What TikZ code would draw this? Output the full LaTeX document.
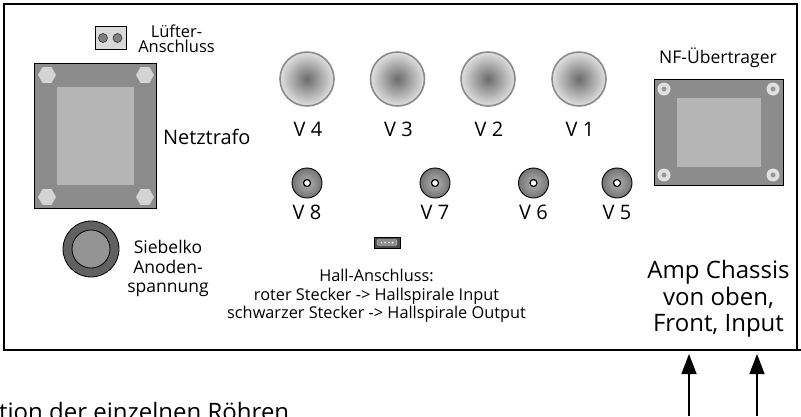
\documentclass[tikz,border=0pt]{standalone}
\usepackage{fontspec}
\setmainfont{Open Sans}
\usetikzlibrary{shapes.geometric,arrows.meta}

\definecolor{trafoout}{HTML}{8C8C8C}
\definecolor{trafoin}{HTML}{B5B5B5}
\definecolor{screw}{HTML}{D4D4D4}
\definecolor{tuberim}{HTML}{8A8A8A}

% fixed line spacing in multi-line labels
\newcommand{\labelfont}[2]{\fontsize{#1}{#2}\selectfont\lineskiplimit=-50pt\relax}

\tikzset{
  lbl/.style={inner sep=0pt, outer sep=0pt, align=center, font=\labelfont{16.5}{15.5}},
  biglbl/.style={inner sep=0pt, outer sep=0pt, align=center, font=\labelfont{20}{22}},
  vlbl/.style={inner sep=0pt, outer sep=0pt, anchor=base, font=\labelfont{20}{22}},
  plate/.style={draw=black, line width=1pt, fill=trafoout, inner sep=0pt, outer sep=0pt},
  core/.style={fill=trafoin, inner sep=0pt, outer sep=0pt},
  hexnut/.style={regular polygon, regular polygon sides=6, fill=screw, inner sep=0pt, minimum size=18pt},
  bigtube/.style={circle, inner sep=0pt, minimum size=54pt, draw=tuberim, line width=1.6pt,
                  inner color=black!58, outer color=black!12},
  smalltube/.style={circle, inner sep=0pt, minimum size=30pt, draw=black, line width=0.9pt,
                    inner color=black!30, outer color=black!55},
  pin/.style={circle, inner sep=0pt, minimum size=7pt, draw=black, line width=1.2pt, fill=white},
  upline/.style={line width=1.4pt, -{Triangle[length=20pt,width=15pt]}}
}

\begin{document}
\begin{tikzpicture}[x=1pt,y=-1pt]
\useasboundingbox (0,0) rectangle (801,416);
\clip (0,0) rectangle (801,416);

% chassis outline
\draw[line width=2.6pt] (4,4) -- (797,4) -- (797,350) -- (4,350) -- cycle;
\draw[line width=2.6pt] (797,350) -- (801,350);

% mains transformer
\node[plate, minimum width=122pt, minimum height=145pt] (nt) at (95,135.5) {};
\node[core, minimum width=77pt, minimum height=98pt] (ntcore) at (95.5,136) {};
\node[hexnut] (nth1) at (47,75) {};
\node[hexnut] (nth2) at (145,75) {};
\node[hexnut] (nth3) at (47,197) {};
\node[hexnut] (nth4) at (145,197) {};
\node[biglbl, anchor=base west] (ntl) at (163,144) {Netztrafo};

% fan connector
\node[draw=black, line width=0.8pt, fill=black!15, minimum width=31pt, minimum height=23pt, inner sep=0pt] (fan) at (110.5,37.5) {};
\node[circle, draw=black!80, line width=0.6pt, fill=black!50, minimum size=9pt, inner sep=0pt] (fan1) at (103,38) {};
\node[circle, draw=black!80, line width=0.6pt, fill=black!50, minimum size=9pt, inner sep=0pt] (fan2) at (117.5,38) {};
\node[lbl] (fanl) at (176.5,39) {Lüfter-\\Anschluss};

% filter capacitor
\node[circle, draw=black, line width=0.8pt, fill=black!62, minimum size=56pt, inner sep=0pt] (cap) at (91,249) {};
\node[circle, draw=black, line width=0.8pt, fill=black!42, minimum size=38pt, inner sep=0pt] (capin) at (91,249) {};
\node[lbl, font=\labelfont{17.5}{19.5}] (capl) at (168,268.5) {Siebelko\\Anoden-\\spannung};

% power and preamp tubes
\foreach \n/\x in {4/307,3/397.5,2/488,1/579}{
  \node[bigtube] (v\n) at (\x,79) {};
  \node[vlbl] (v\n l) at (\x+1,136) {V \n};
}
\foreach \n/\x in {8/307,7/435,6/533.5,5/617}{
  \node[smalltube] (v\n) at (\x,183) {};
  \node[pin] (v\n p) at (\x,183) {};
  \node[vlbl] (v\n l) at (\x,219.5) {V \n};
}

% output transformer
\node[lbl, font=\labelfont{17.5}{19}, anchor=base] (nfl) at (718,63.5) {NF-Übertrager};
\node[plate, minimum width=129pt, minimum height=106pt] (nf) at (718.5,132) {};
\node[core, minimum width=84pt, minimum height=69pt] (nfcore) at (719,132.5) {};
\foreach \i/\x/\y in {1/664/89,2/773/89,3/664/175,4/773/175}{
  \node[circle, fill=black!12, minimum size=13pt, inner sep=0pt] (nfs\i) at (\x,\y) {};
  \node[circle, fill=black!40, minimum size=5pt, inner sep=0pt] (nfc\i) at (\x,\y) {};
}

% reverb connector
\node[draw=black, line width=0.7pt, fill=black!70, minimum width=26pt, minimum height=11pt, inner sep=0pt] (hall) at (387,242.5) {};
\node[draw=black!20, fill=black!45, rounded corners=2pt, minimum width=20pt, minimum height=6pt, inner sep=0pt] (hallin) at (387,242.5) {};
\foreach \i/\x in {1/381.5,2/385.2,3/388.8,4/392.5}{
  \fill[white] (\x,242.5) circle (1pt);
}
\node[lbl, font=\labelfont{16.3}{18.5}] (halll) at (376.5,296) {Hall-Anschluss:\\roter Stecker -> Hallspirale Input\\schwarzer Stecker -> Hallspirale Output};

% orientation note
\node[lbl, font=\labelfont{24}{26.5}] (amp) at (718.5,299) {Amp Chassis\\von oben,\\Front, Input};

% input arrows
\coordinate (a1s) at (689,416);
\coordinate (a1e) at (689,354);
\coordinate (a2s) at (757,416);
\coordinate (a2e) at (757,354);
\draw[upline] (a1s) -- (a1e);
\draw[upline] (a2s) -- (a2e);

% caption
\node[inner sep=0pt, anchor=base west, font=\labelfont{24}{27}] (cap2) at (-1,420) {tion der einzelnen Röhren};
\end{tikzpicture}
\end{document}
